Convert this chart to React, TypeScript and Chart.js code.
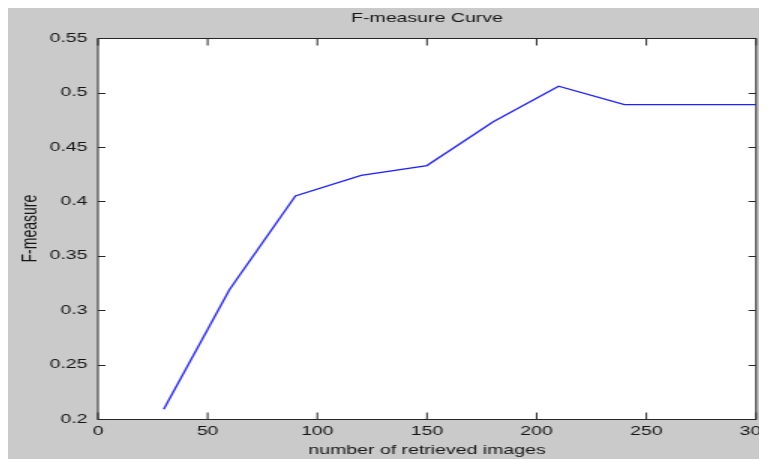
import React, { useEffect, useRef } from "react";
import { Chart, registerables } from "chart.js";

Chart.register(...registerables);

const retrievedImages = [30, 60, 90, 120, 150, 180, 210, 240, 270, 300];
const fMeasure = [0.209, 0.319, 0.405, 0.424, 0.433, 0.473, 0.506, 0.489, 0.489, 0.489];
const xTickValues = [0, 50, 100, 150, 200, 250, 300];
const yTickValues = [0.2, 0.25, 0.3, 0.35, 0.4, 0.45, 0.5, 0.55];
const chartTitle = "F-measure Curve";
const xAxisTitle = "number of retrieved images";
const yAxisTitle = "F-measure";

const CSS_W = 759;
const CSS_H = 451;
const STRETCH = 1.5;
const INNER_W = Math.round(CSS_W / STRETCH);
const FONT = "'Liberation Sans', Arial, sans-serif";
const TEXT = "#151515";

const framePlugin = {
  id: "matlabFrame",
  beforeDraw(chart: any) {
    const { ctx, chartArea } = chart;
    const { left, right, top, bottom } = chartArea;
    ctx.save();
    ctx.fillStyle = "#ffffff";
    ctx.fillRect(left, top, right - left, bottom - top);
    ctx.restore();
  },
  afterDraw(chart: any) {
    const { ctx, chartArea, scales } = chart;
    const { left, right, top, bottom } = chartArea;
    const x = scales.x;
    const y = scales.y;
    ctx.save();
    ctx.strokeStyle = "#262626";
    ctx.lineWidth = 1;
    const t = Math.round(top) + 0.5;
    const b = Math.round(bottom) + 0.5;
    ctx.strokeRect(left, t, right - left, b - t);
    ctx.beginPath();
    x.ticks.forEach((tk: any) => {
      const px = x.getPixelForValue(tk.value);
      ctx.moveTo(px, b);
      ctx.lineTo(px, b - 7);
      ctx.moveTo(px, t);
      ctx.lineTo(px, t + 7);
    });
    y.ticks.forEach((tk: any) => {
      const py = Math.round(y.getPixelForValue(tk.value)) + 0.5;
      ctx.moveTo(left, py);
      ctx.lineTo(left + 5, py);
      ctx.moveTo(right, py);
      ctx.lineTo(right - 5, py);
    });
    ctx.stroke();

    const cx = (left + right) / 2;
    ctx.fillStyle = TEXT;
    ctx.textAlign = "center";
    ctx.textBaseline = "middle";
    ctx.font = `13px ${FONT}`;
    ctx.fillText(chartTitle, cx, 10);
    ctx.fillText(xAxisTitle, cx, 442);
    ctx.translate(14.7, (top + bottom) / 2);
    ctx.rotate(-Math.PI / 2);
    ctx.font = `14px ${FONT}`;
    ctx.fillText(yAxisTitle, 0, 0);
    ctx.restore();
  },
};

export default function App() {
  const ref = useRef<HTMLCanvasElement>(null);

  useEffect(() => {
    document.body.style.overflow = "hidden";
    const canvas = ref.current!;
    const chart = new Chart(canvas, {
      type: "line",
      data: {
        datasets: [
          {
            data: retrievedImages.map((v, i) => ({ x: v, y: fMeasure[i] })),
            borderColor: "#1f1fff",
            borderWidth: 1.3,
            pointRadius: 0,
            fill: false,
            tension: 0,
          },
        ],
      },
      options: {
        animation: false,
        responsive: false,
        devicePixelRatio: 1,
        layout: { padding: { left: 0, top: 30.3, right: INNER_W - 498.7, bottom: 0 } },
        plugins: {
          legend: { display: false },
          title: { display: false },
          tooltip: { enabled: false },
        },
        scales: {
          x: {
            type: "linear",
            min: 0,
            max: 300,
            grid: { display: false, drawTicks: false },
            border: { display: false },
            afterBuildTicks: (s: any) => {
              s.ticks = xTickValues.map((v) => ({ value: v }));
            },
            ticks: {
              autoSkip: false,
              maxRotation: 0,
              padding: 5,
              color: TEXT,
              font: { family: FONT, size: 13 },
              callback: (v: any) => String(v),
            },
            afterFit: (s: any) => {
              s.height = CSS_H - 411;
              s.paddingLeft = 0;
              s.paddingRight = 0;
            },
          },
          y: {
            type: "linear",
            min: 0.2,
            max: 0.55,
            grid: { display: false, drawTicks: false },
            border: { display: false },
            afterBuildTicks: (s: any) => {
              s.ticks = yTickValues.map((v) => ({ value: v }));
            },
            ticks: {
              autoSkip: false,
              padding: 7,
              color: TEXT,
              font: { family: FONT, size: 13 },
              callback: (v: any) => String(Number(Number(v).toFixed(2))),
            },
            afterFit: (s: any) => {
              s.width = 60;
              s.paddingTop = 0;
              s.paddingBottom = 0;
            },
          },
        },
      },
      plugins: [framePlugin],
    });
    return () => chart.destroy();
  }, []);

  return (
    <canvas
      ref={ref}
      width={INNER_W}
      height={CSS_H}
      style={{
        display: "block",
        width: `${CSS_W}px`,
        height: `${CSS_H}px`,
        background: "#cacaca",
      }}
    />
  );
}
